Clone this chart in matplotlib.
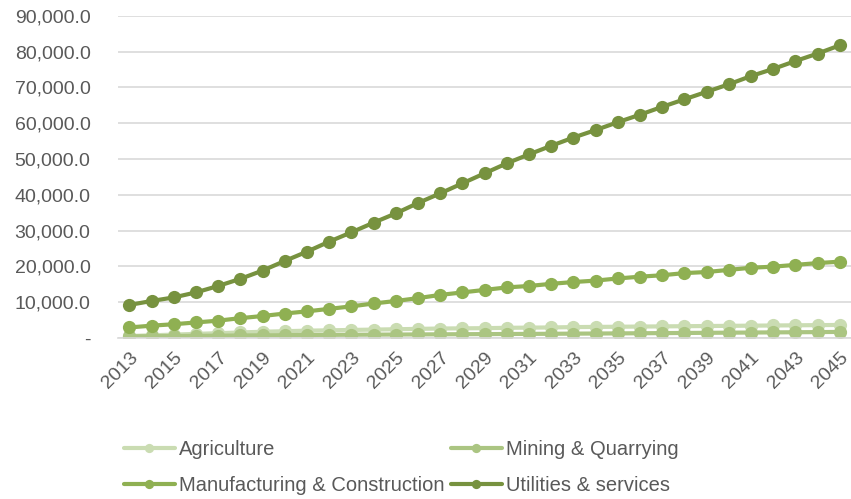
import numpy as np
import matplotlib.pyplot as plt
from matplotlib.ticker import FuncFormatter

plt.rcParams['font.family'] = ['Liberation Sans', 'DejaVu Sans']

years = list(range(2013, 2046))

agriculture = [500, 700, 900, 1100, 1300, 1500, 1700, 1850, 2000, 2100, 2200,
               2300, 2400, 2500, 2600, 2650, 2700, 2800, 2850, 2900, 3000, 3050,
               3100, 3150, 3200, 3250, 3300, 3350, 3400, 3450, 3500, 3550, 3600]
mining = [400, 450, 500, 550, 600, 650, 700, 750, 800, 830, 860, 890, 920, 950,
          980, 1010, 1040, 1070, 1100, 1130, 1170, 1200, 1240, 1280, 1320, 1360,
          1400, 1440, 1480, 1520, 1560, 1600, 1650]
manufacturing = [2900, 3400, 3800, 4300, 4800, 5500, 6100, 6800, 7400, 8100, 8800,
                 9600, 10300, 11100, 12000, 12700, 13400, 14100, 14500, 15100,
                 15600, 16000, 16600, 17100, 17500, 18100, 18400, 19000, 19600,
                 19900, 20400, 20900, 21300]
utilities = [9200, 10300, 11300, 12700, 14500, 16500, 18800, 21500, 24100, 26900,
             29500, 32200, 34800, 37700, 40400, 43200, 46000, 48800, 51300, 53700,
             56000, 58100, 60300, 62400, 64600, 66700, 68800, 70900, 73200, 75200,
             77400, 79500, 81800]

series = [
    ('Agriculture', agriculture, '#cadcb2'),
    ('Mining & Quarrying', mining, '#abc582'),
    ('Manufacturing & Construction', manufacturing, '#8fb052'),
    ('Utilities & services', utilities, '#77923f'),
]

fig = plt.figure(figsize=(8.51, 4.99), dpi=100)
ax = fig.add_axes([0.139, 0.323, 0.861, 0.645])

lines = []
for name, vals, col in series:
    ln, = ax.plot(years, vals, color=col, lw=3, marker='o', markersize=9.5,
                  markeredgewidth=0, label=name, solid_capstyle='round')
    lines.append(ln)

ax.set_xlim(2012.5, 2045.5)
ax.set_ylim(0, 90000)
ax.set_yticks(np.arange(0, 90001, 10000))
ax.yaxis.set_major_formatter(FuncFormatter(lambda v, p: '-' if v == 0 else f'{v:,.1f}'))
ax.set_xticks(years[::2])
ax.set_xticklabels([str(y) for y in years[::2]], rotation=45, ha='right',
                   rotation_mode='anchor')

ax.grid(axis='y', color='#d9d9d9', lw=1.2)
ax.set_axisbelow(True)
for s in ['top', 'right', 'left']:
    ax.spines[s].set_visible(False)
ax.spines['bottom'].set_color('#d9d9d9')
ax.spines['bottom'].set_linewidth(1.2)
ax.tick_params(length=0, labelsize=14, labelcolor='#595959')
ax.tick_params(axis='y', pad=20)
ax.tick_params(axis='x', pad=8)

# legend filled row by row, like the original
order = [0, 2, 1, 3]
leg = fig.legend([lines[i] for i in order], [series[i][0] for i in order],
                 loc='upper left', bbox_to_anchor=(0.146, 0.118), ncol=2,
                 frameon=False, fontsize=14.5, handlelength=2.5,
                 columnspacing=0.35, handletextpad=0.2, labelspacing=0.85,
                 markerscale=0.7, borderpad=0, borderaxespad=0)
for t in leg.get_texts():
    t.set_color('#595959')

fig.savefig('out.png', dpi=100)
